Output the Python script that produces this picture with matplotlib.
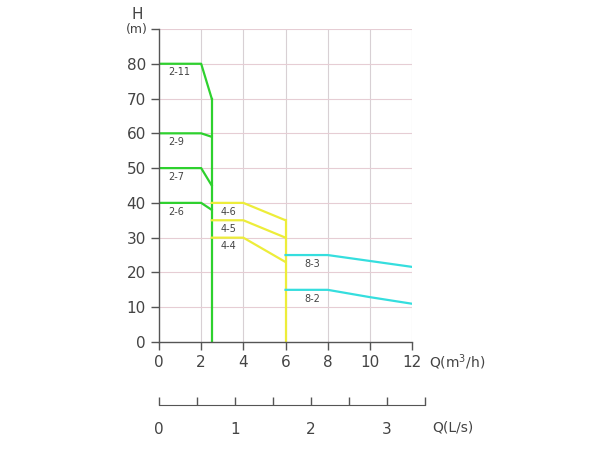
import matplotlib.pyplot as plt

# pump curves, Q in m3/h, H in m
q_2 = [0, 2, 2.5]
h_2_11 = [80, 80, 70]
h_2_9 = [60, 60, 59]
h_2_7 = [50, 50, 45]
h_2_6 = [40, 40, 38]

q_4 = [2.5, 4, 6]
h_4_6 = [40, 40, 35]
h_4_5 = [35, 35, 30]
h_4_4 = [30, 30, 23]

q_8 = [6, 8, 10, 12]
h_8_3 = [25, 25, 23.3, 21.6]
h_8_2 = [15, 15, 12.9, 11]

x_ticks = [0, 2, 4, 6, 8, 10, 12]
y_ticks = [0, 10, 20, 30, 40, 50, 60, 70, 80]
ls_ticks = [0, 0.5, 1, 1.5, 2, 2.5, 3, 3.5]
ls_labels = ['0', '', '1', '', '2', '', '3', '']

green = '#2ed12e'
yellow = '#eded3a'
cyan = '#35dede'
txt = '#444444'
gridh = '#e6cdd4'
gridv = '#d8d0d4'

fig = plt.figure(figsize=(6, 4.5), dpi=100)
ax = fig.add_axes([0.265, 0.24, 0.4217, 0.6956])

for x in x_ticks[1:]:
    ax.axvline(x, color=gridv, lw=0.8, zorder=0)
for y in y_ticks[1:] + [90]:
    ax.axhline(y, color=gridh, lw=0.8, zorder=0)

lw = 1.6
ax.plot(q_2, h_2_11, color=green, lw=lw)
ax.plot(q_2, h_2_9, color=green, lw=lw)
ax.plot(q_2, h_2_7, color=green, lw=lw)
ax.plot(q_2, h_2_6, color=green, lw=lw)
ax.plot([2.5, 2.5], [70, 0], color=green, lw=lw)

ax.plot(q_4, h_4_6, color=yellow, lw=lw)
ax.plot(q_4, h_4_5, color=yellow, lw=lw)
ax.plot(q_4, h_4_4, color=yellow, lw=lw)
ax.plot([6, 6], [35, 0], color=yellow, lw=lw)

ax.plot(q_8, h_8_3, color=cyan, lw=lw)
ax.plot(q_8, h_8_2, color=cyan, lw=lw)

labels = [('2-11', 0.45, 77.5), ('2-9', 0.45, 57.5), ('2-7', 0.45, 47.5),
          ('2-6', 0.45, 37.5), ('4-6', 2.9, 37.5), ('4-5', 2.9, 32.5),
          ('4-4', 2.9, 27.5), ('8-3', 6.9, 22.5), ('8-2', 6.9, 12.5)]
for s, x, y in labels:
    ax.text(x, y, s, fontsize=7, color=txt, va='center', ha='left')

ax.set_xlim(0, 12)
ax.set_ylim(0, 90)
ax.set_xticks(x_ticks)
ax.set_yticks(y_ticks + [90])
ax.set_yticklabels([str(v) for v in y_ticks] + [''])
for sp in ['top', 'right']:
    ax.spines[sp].set_visible(False)
for sp in ['left', 'bottom']:
    ax.spines[sp].set_color('#555555')
    ax.spines[sp].set_linewidth(1.0)
ax.tick_params(colors='#555555', labelcolor=txt, labelsize=11, length=6, width=1.0)

ax.text(-0.087, 1.045, 'H', transform=ax.transAxes, fontsize=11, color=txt,
        ha='center', va='center')
ax.text(-0.087, 0.997, '(m)', transform=ax.transAxes, fontsize=9, color=txt,
        ha='center', va='center')
fig.text(0.715, 0.196, 'Q(m$^3$/h)', fontsize=10, color=txt,
         ha='left', va='center')

# second scale in L/s
ax2 = fig.add_axes([0.265, 0.1, 0.4433, 0.01])
ax2.set_xlim(0, 3.5)
ax2.set_ylim(0, 1)
ax2.patch.set_visible(False)
for sp in ['top', 'right', 'left']:
    ax2.spines[sp].set_visible(False)
ax2.spines['bottom'].set_color('#555555')
ax2.set_yticks([])
ax2.set_xticks(ls_ticks)
ax2.set_xticklabels(ls_labels)
ax2.tick_params(axis='x', direction='in', colors='#555555', labelcolor=txt,
                labelsize=11, length=6, width=1.0, pad=12)
fig.text(0.72, 0.051, 'Q(L/s)', fontsize=10, color=txt, ha='left', va='center')

fig.savefig('out.png', dpi=100)
